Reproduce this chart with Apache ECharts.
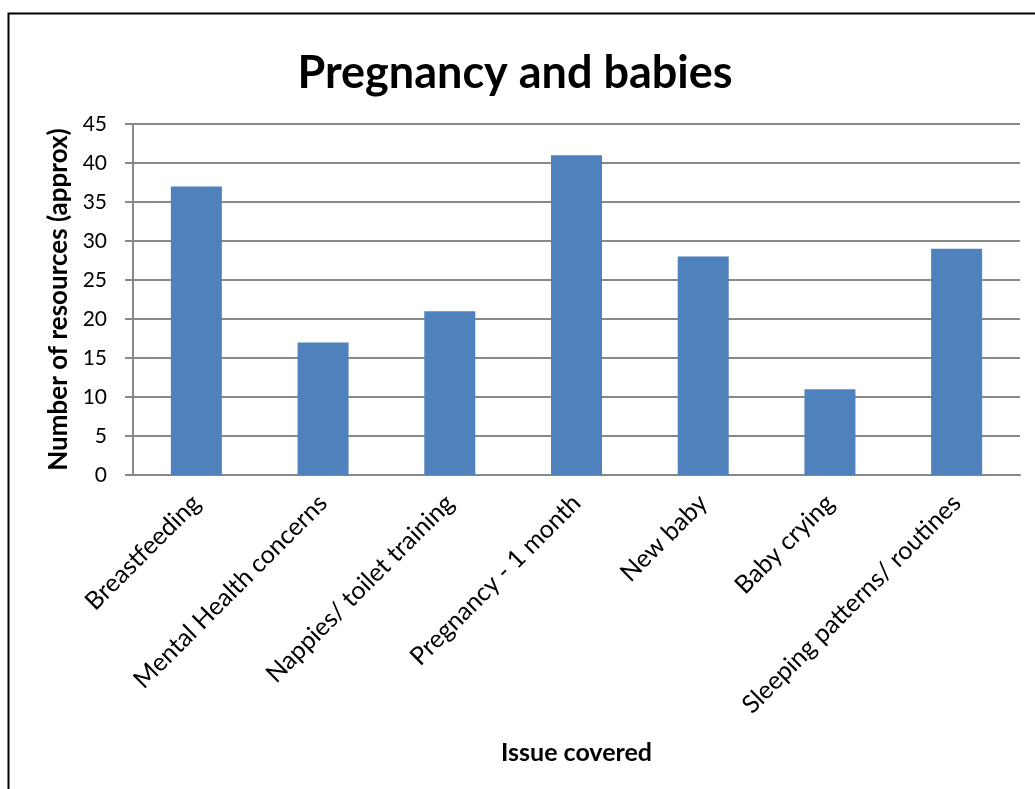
<!DOCTYPE html>
<html>
<head>
<meta charset="utf-8">
<script src="https://cdn.jsdelivr.net/npm/echarts@6/dist/echarts.min.js"></script>
<style>
  html, body { margin: 0; padding: 0; background: #fff; }
  #chart { width: 1035px; height: 789px; }
</style>
</head>
<body>
<div id="chart"></div>
<script>
// Resources per topic
const categories = [
  'Breastfeeding',
  'Mental Health concerns',
  'Nappies/ toilet training',
  'Pregnancy - 1 month',
  'New baby',
  'Baby crying',
  'Sleeping patterns/ routines'
];
const resourceCounts = [37, 17, 21, 41, 28, 11, 29];
const yTicks = [0, 5, 10, 15, 20, 25, 30, 35, 40, 45];

const FONT = 'Lato, "Open Sans", sans-serif';
const chart = echarts.init(document.getElementById('chart'), null, { renderer: 'canvas' });

chart.setOption({
  animation: false,
  backgroundColor: '#ffffff',
  title: {
    text: 'Pregnancy and babies',
    left: 510,
    textAlign: 'center',
    top: 46,
    textStyle: { fontFamily: FONT, fontSize: 45, fontWeight: 'bold', color: '#000' }
  },
  graphic: [{
    type: 'rect',
    left: 6,
    top: 11,
    shape: { width: 1100, height: 900 },
    style: { fill: 'none', stroke: '#000', lineWidth: 2 },
    silent: true,
    z: 100
  }],
  grid: { left: 133, right: 15, top: 124, bottom: 314, containLabel: false },
  xAxis: {
    type: 'category',
    data: categories,
    name: 'Issue covered',
    nameLocation: 'middle',
    nameGap: 265,
    nameTextStyle: { fontFamily: FONT, fontSize: 25, fontWeight: 'bold', color: '#000' },
    axisLine: { show: true, lineStyle: { color: '#888', width: 2 } },
    axisTick: { show: false },
    axisLabel: {
      rotate: 45,
      interval: 0,
      margin: 24,
      fontFamily: FONT,
      fontSize: 25,
      color: '#000'
    }
  },
  yAxis: {
    type: 'value',
    min: yTicks[0],
    max: yTicks[yTicks.length - 1],
    interval: 5,
    name: 'Number of resources (approx)',
    nameLocation: 'middle',
    nameGap: 60,
    nameRotate: 90,
    nameTextStyle: { fontFamily: FONT, fontSize: 26, fontWeight: 'bold', color: '#000' },
    axisLine: { show: true, lineStyle: { color: '#888', width: 2 } },
    axisTick: { show: true, length: 8, lineStyle: { color: '#888', width: 2 } },
    splitLine: { show: true, lineStyle: { color: '#888', width: 2 } },
    axisLabel: { fontFamily: FONT, fontSize: 21, color: '#000', margin: 26 }
  },
  series: [{
    type: 'bar',
    data: resourceCounts,
    barWidth: 51,
    itemStyle: { color: '#4f81bd' }
  }]
});
</script>
</body>
</html>
